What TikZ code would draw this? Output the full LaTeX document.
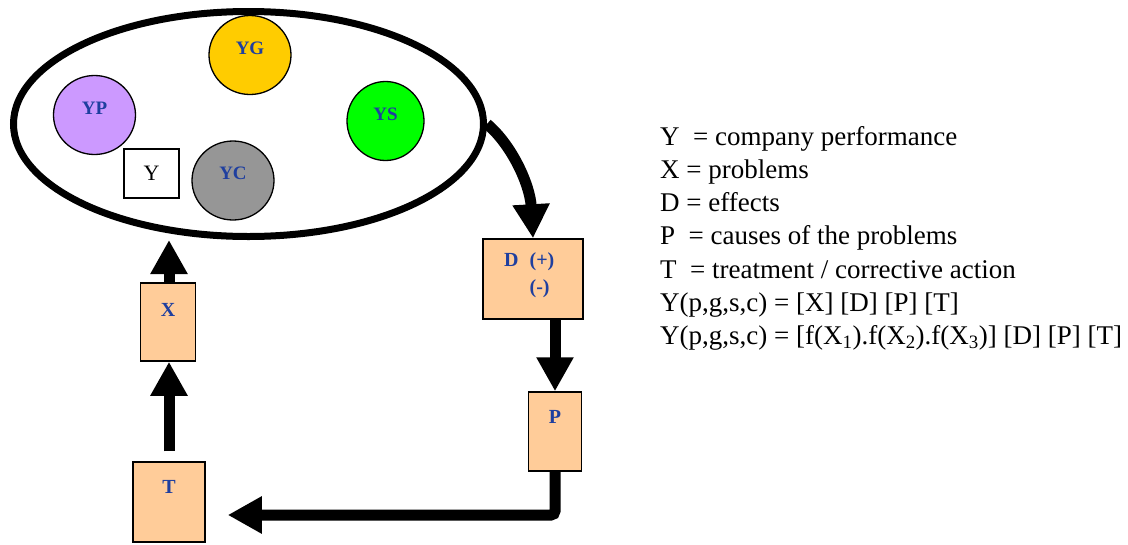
\documentclass[tikz,border=0pt]{standalone}
\usepackage{fontspec}
\setmainfont{Liberation Serif}
\usetikzlibrary{shapes.geometric,arrows.meta,calc}

\definecolor{peach}{HTML}{FFCC99}
\definecolor{labelblue}{HTML}{1F3F9F}
\definecolor{ygold}{HTML}{FFCC00}
\definecolor{ylilac}{HTML}{CC99FF}
\definecolor{ygreen}{HTML}{00FF00}
\definecolor{ygray}{HTML}{969696}

\tikzset{
  part/.style={ellipse, draw, line width=1.3pt, minimum width=82pt, minimum height=79pt},
  partlabel/.style={font=\fontsize{19}{19}\selectfont\bfseries, text=labelblue, yshift=7pt},
  stepbox/.style={rectangle, draw, line width=1.5pt, fill=peach},
  boxlabel/.style={font=\fontsize{20}{27}\selectfont\bfseries, text=labelblue},
  flow/.style={line width=11pt, -{Triangle[width=35pt,length=34pt]}}
}

\begin{document}
\begin{tikzpicture}[x=1pt,y=-1pt]
\useasboundingbox (0,0) rectangle (1128,544);

% company performance
\node[ellipse, draw, line width=7pt, minimum width=470pt, minimum height=225pt] (perf) at (248.5,124) {};

\node[part, fill=ygold] (yg) at (250,55) {};
\node[partlabel] at (yg) {YG};
\node[part, fill=ylilac] (yp) at (94.5,115) {};
\node[partlabel] at (yp) {YP};
\node[part, fill=ygreen, minimum width=77pt] (ys) at (385.5,121) {};
\node[partlabel] at (ys) {YS};
\node[part, fill=ygray] (yc) at (233,180.5) {};
\node[partlabel] at (yc) {YC};

\node[draw, line width=1.3pt, minimum width=55pt, minimum height=49pt,
      font=\fontsize{22}{22}\selectfont] (y) at (151.5,173.5) {Y};

% loop boxes
\node[stepbox, minimum width=100pt, minimum height=80pt] (d) at (533,279) {};
\node[boxlabel, align=left, anchor=north west, inner sep=0pt] at (504,252) {D\hspace{11pt}(+)\\\phantom{D\hspace{11pt}}(-)};

\node[stepbox, minimum width=53pt, minimum height=79pt] (p) at (555,431.5) {};
\node[boxlabel] at ($(p)+(0,-15)$) {P};

\node[stepbox, minimum width=72pt, minimum height=80pt] (t) at (169,502) {};
\node[boxlabel] at ($(t)+(0,-15)$) {T};

\node[stepbox, minimum width=55pt, minimum height=78pt] (x) at (168,322) {};
\node[boxlabel] at ($(x)+(0,-12)$) {X};

% arrows
\draw[flow] (perf.0) .. controls (512,145) and (530,185) .. (d.north);
\draw[flow] (d.south -| p.north) -- (p.north);
\draw[flow, rounded corners=4pt, shorten >=22pt] (p.south) |- ([yshift=-13pt]t.east);
\draw[flow, shorten <=10pt] (t.north) -- (x.south -| t.north);
\draw[flow] (x.north -| t.north) -- (perf.south -| t.north);

% legend
\node[anchor=north west, align=left, inner sep=0pt,
      font=\fontsize{27}{33.2}\selectfont] (legend) at (660,126) {%
Y\ \ = company performance\\
X = problems\\
D = effects\\
P\ \ = causes of the problems\\
T\ \ = treatment / corrective action\\
Y(p,g,s,c) = [X] [D] [P] [T]\\
Y(p,g,s,c) = [f(X\textsubscript{1}).f(X\textsubscript{2}).f(X\textsubscript{3})] [D] [P] [T]};
\end{tikzpicture}
\end{document}
